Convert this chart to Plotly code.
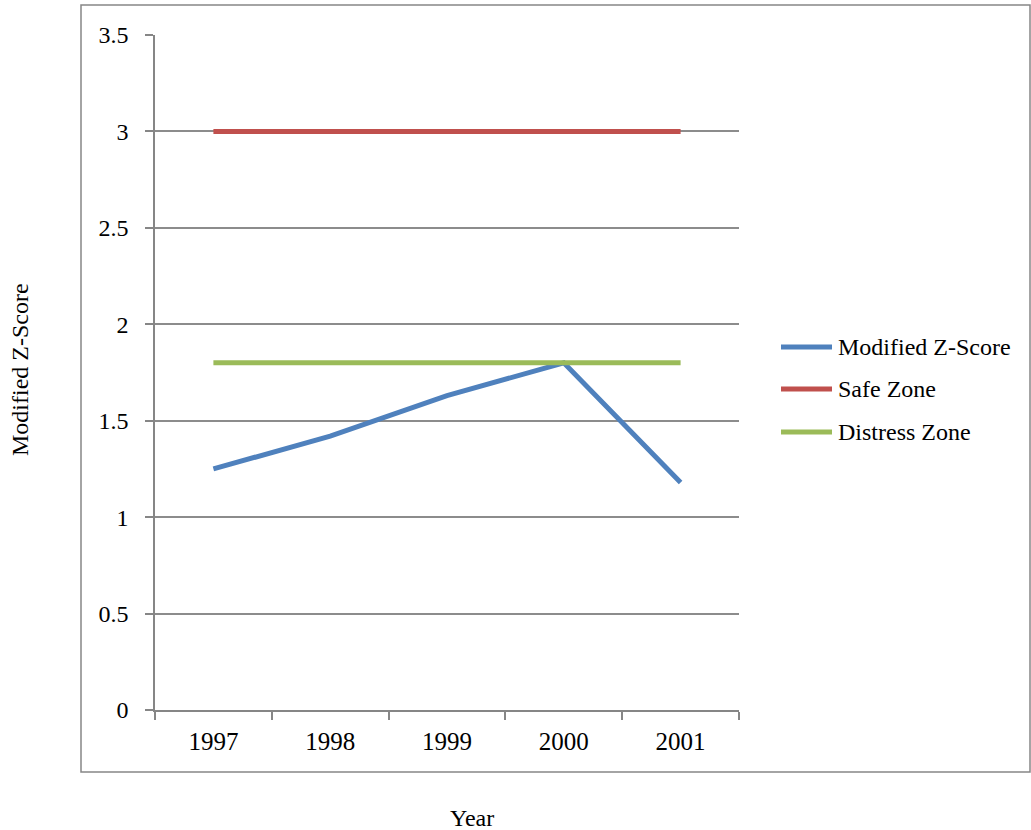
import plotly.graph_objects as go

# Chart data
years = ["1997", "1998", "1999", "2000", "2001"]
modified_z = [1.25, 1.42, 1.63, 1.80, 1.18]
safe_zone = [3.0, 3.0, 3.0, 3.0, 3.0]
distress_zone = [1.8, 1.8, 1.8, 1.8, 1.8]
y_ticks = [0, 0.5, 1, 1.5, 2, 2.5, 3, 3.5]

series_names = ["Modified Z-Score", "Safe Zone", "Distress Zone"]
series_values = [modified_z, safe_zone, distress_zone]
series_colors = ["#4F81BD", "#C0504D", "#9BBB59"]

FONT = "Liberation Serif, Times New Roman, serif"
GRID = "#8c8c8c"

W, H = 1031, 830
L, R, T, B = 155, 739, 35, 710  # plot area in pixels


def px_x(p):
    return (p - L) / (R - L)


def px_y(p):
    return (B - p) / (B - T)


fig = go.Figure()
for name, vals, col in zip(series_names, series_values, series_colors):
    fig.add_trace(go.Scatter(
        x=years, y=vals, name=name, mode="lines",
        line=dict(color=col, width=5),
        showlegend=False,
    ))

shapes = []
annotations = []

# outer chart border
shapes.append(dict(type="rect", xref="paper", yref="paper",
                   x0=px_x(81), x1=px_x(1030), y0=px_y(772), y1=px_y(5),
                   line=dict(color="#868686", width=1.5), layer="below"))

# legend entries
legend_rows = [347, 389, 432]
for name, col, row in zip(series_names, series_colors, legend_rows):
    shapes.append(dict(type="line", xref="paper", yref="paper",
                       x0=px_x(781), x1=px_x(832), y0=px_y(row), y1=px_y(row),
                       line=dict(color=col, width=5)))
    annotations.append(dict(xref="paper", yref="paper", x=px_x(836), y=px_y(row),
                            text=name, showarrow=False, xanchor="left",
                            yanchor="middle",
                            font=dict(family=FONT, size=24, color="#000")))

# axis titles
annotations.append(dict(xref="paper", yref="paper", x=px_x(472), y=px_y(818),
                        text="Year", showarrow=False, xanchor="center",
                        yanchor="middle",
                        font=dict(family=FONT, size=24, color="#000")))
annotations.append(dict(xref="paper", yref="paper", x=px_x(20), y=px_y(370),
                        text="Modified Z-Score", showarrow=False, textangle=-90,
                        xanchor="center", yanchor="middle",
                        font=dict(family=FONT, size=24, color="#000")))

fig.update_layout(
    width=W, height=H,
    margin=dict(l=L, r=W - R, t=T, b=H - B, pad=0),
    paper_bgcolor="white", plot_bgcolor="white",
    showlegend=False,
    shapes=shapes, annotations=annotations,
    font=dict(family=FONT, size=25, color="#000"),
)

fig.update_xaxes(
    type="category", range=[-0.5, 4.5], tickson="boundaries",
    showgrid=False, showline=True, linecolor="#868686", linewidth=1.5,
    ticks="outside", ticklen=8, tickcolor="#868686", tickwidth=1.5,
    ticklabelstandoff=8,
    tickfont=dict(family=FONT, size=25, color="#000"),
    zeroline=False, fixedrange=True,
)
fig.update_yaxes(
    range=[0, 3.5], tickvals=y_ticks, ticktext=[f"{v:g}" for v in y_ticks],
    showgrid=True, gridcolor=GRID, gridwidth=1.5,
    showline=True, linecolor="#868686", linewidth=1.5,
    ticks="outside", ticklen=8, tickcolor="#868686", tickwidth=1.5,
    ticklabelstandoff=12,
    tickfont=dict(family=FONT, size=24, color="#000"),
    zeroline=False, fixedrange=True,
)

fig.write_html("out.html")
